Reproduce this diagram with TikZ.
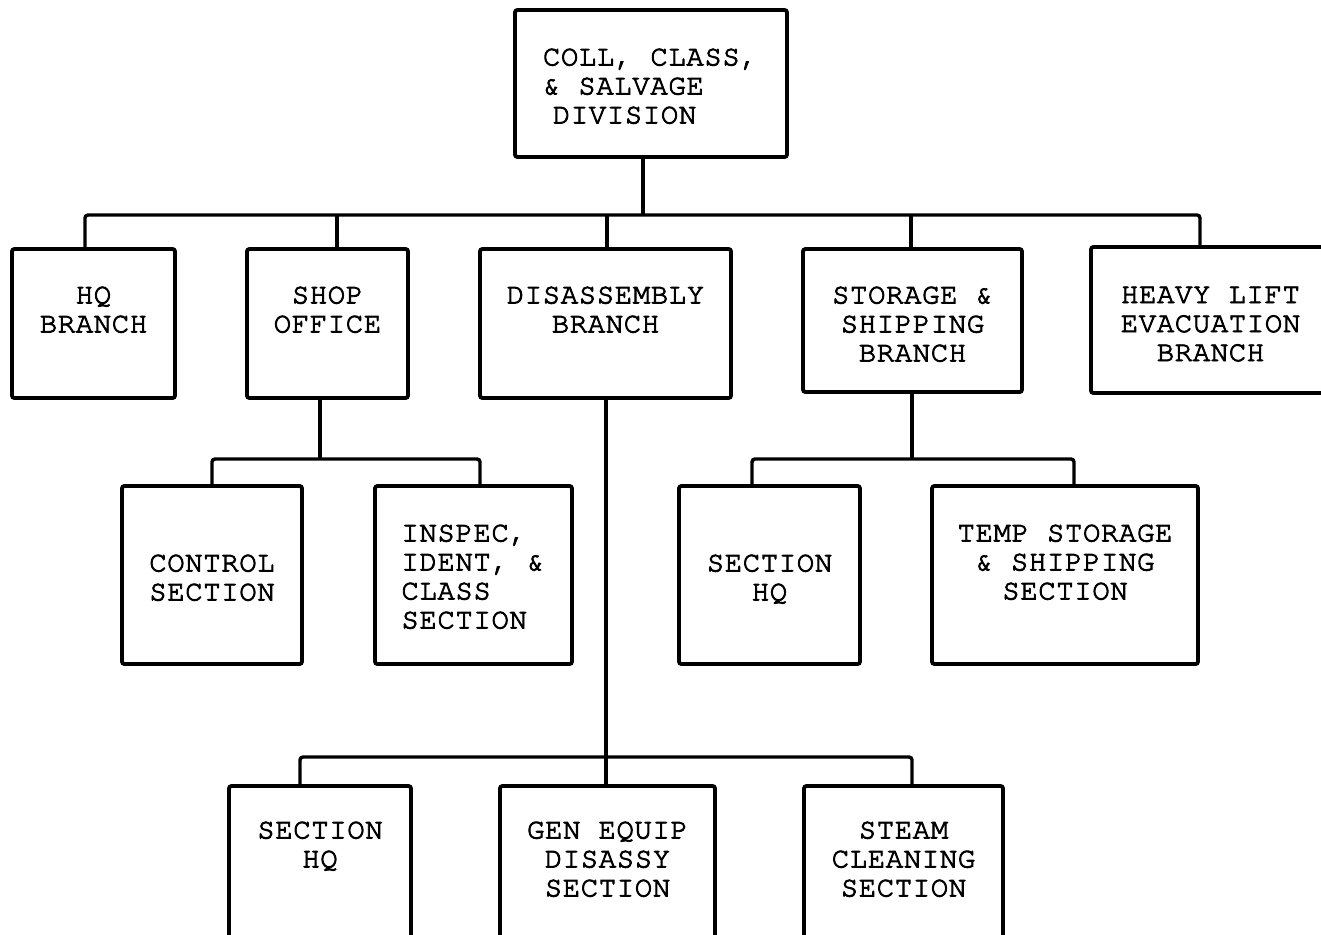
\documentclass[tikz,border=0pt]{standalone}
\usepackage{fontspec}
\setmainfont{texgyrecursor-regular.otf}[LetterSpace=2.1, FakeBold=3]

% one unit = one pixel of the 1321 x 934 sheet
\newlength\pxu
\setlength\pxu{0.5pt}
\newlength\chw
\newlength\chwone

% box contents: width, height, offset of first baseline (all in px), lines
\newcommand\boxtext[4]{%
  \parbox[c][#2\pxu][t]{#1\pxu}{\centering\fontsize{14.5pt}{14.5pt}\selectfont
    \settowidth{\chw}{MMMMMMMMMMM}\settowidth{\chwone}{M}%
    \setlength{\chw}{\dimexpr(\chw-\chwone)/10\relax}%
    \vspace*{\dimexpr#3\pxu-\fontcharht\font`H\relax}#4}}
% a left-aligned line inside a block of #1 characters
\newcommand\lline[2]{\makebox[#1\chw][l]{#2}}

\tikzset{
  unit/.style={draw, line width=1.9pt, rounded corners=1.2pt,
    inner sep=0pt, outer sep=0pt, fill=white},
  link/.style={line width=1.7pt, rounded corners=1.5pt},
}

\begin{document}
\begin{tikzpicture}[x=0.5pt, y=-0.5pt]
\useasboundingbox (0,0) rectangle (1321,934);
\fill[white] (0,0) rectangle (1321,934);
\clip (0,0) rectangle (1321,934);

% bus levels and stem points
\coordinate (t1)  at (643,215);
\coordinate (b1L) at (85,215);
\coordinate (b1R) at (1200,215);
\coordinate (s1)  at (337,215);
\coordinate (d1)  at (607,215);
\coordinate (st1) at (911,215);
\coordinate (s2)  at (320,459);
\coordinate (b2L) at (212,459);
\coordinate (b2R) at (480,459);
\coordinate (st2) at (912,459);
\coordinate (b3L) at (752,459);
\coordinate (b3R) at (1074,459);
\coordinate (d2)  at (606,757);
\coordinate (b4L) at (300,757);
\coordinate (b4R) at (912,757);

% division
\node[unit] (top) at (651,83.5) {\boxtext{272}{147}{55}{%
  \lline{12}{COLL, CLASS,}\\
  \lline{12}{\& SALVAGE}\\
  \lline{12}{\hspace*{0.55\chw}DIVISION}}};

% branches
\node[unit] (hq)    at (93.5,323.5)  {\boxtext{163}{149}{54}{HQ\\BRANCH}};
\node[unit] (shop)  at (327.5,323.5) {\boxtext{161}{149}{54}{SHOP\\OFFICE}};
\node[unit] (dis)   at (605.5,323.5) {\boxtext{251}{149}{54}{DISASSEMBLY\\BRANCH}};
\node[unit] (stor)  at (912.5,320.5) {\boxtext{219}{143}{54}{STORAGE \&\\SHIPPING\\BRANCH}};
\node[unit] (heavy) at (1210.5,320)  {\boxtext{239}{146}{56}{HEAVY LIFT\\EVACUATION\\BRANCH}};

% sections
\node[unit] (control) at (212,575)    {\boxtext{180}{178}{85}{CONTROL\\SECTION}};
\node[unit] (inspec)  at (473.5,575)  {\boxtext{197}{178}{55}{%
  \lline{8}{INSPEC,}\\
  \lline{8}{IDENT, \&}\\
  \lline{8}{CLASS}\\
  \lline{8}{SECTION}}};
\node[unit] (shq)     at (769.5,575)  {\boxtext{181}{178}{85}{SECTION\\HQ}};
\node[unit] (temp)    at (1065,575)   {\boxtext{266}{178}{55}{TEMP STORAGE\\\& SHIPPING\\SECTION}};

\node[unit] (sec)   at (320,863)   {\boxtext{182}{154}{52}{SECTION\\HQ}};
\node[unit] (gen)   at (607.5,863) {\boxtext{215}{154}{52}{GEN EQUIP\\DISASSY\\SECTION}};
\node[unit] (steam) at (903.5,863) {\boxtext{199}{154}{52}{STEAM\\CLEANING\\SECTION}};

% connectors
\draw[link] (top.south -| t1) -- (t1);
\draw[link] (hq.north -| b1L) -- (b1L) -- (b1R) -- (heavy.north -| b1R);
\draw[link] (s1) -- (shop.north -| s1);
\draw[link] (d1) -- (dis.north -| d1);
\draw[link] (st1) -- (stor.north -| st1);

\draw[link] (shop.south -| s2) -- (s2);
\draw[link] (control.north -| b2L) -- (b2L) -- (b2R) -- (inspec.north -| b2R);

\draw[link] (stor.south -| st2) -- (st2);
\draw[link] (shq.north -| b3L) -- (b3L) -- (b3R) -- (temp.north -| b3R);

\draw[link] (dis.south -| d2) -- (gen.north -| d2);
\draw[link] (sec.north -| b4L) -- (b4L) -- (b4R) -- (steam.north -| b4R);
\end{tikzpicture}
\end{document}
